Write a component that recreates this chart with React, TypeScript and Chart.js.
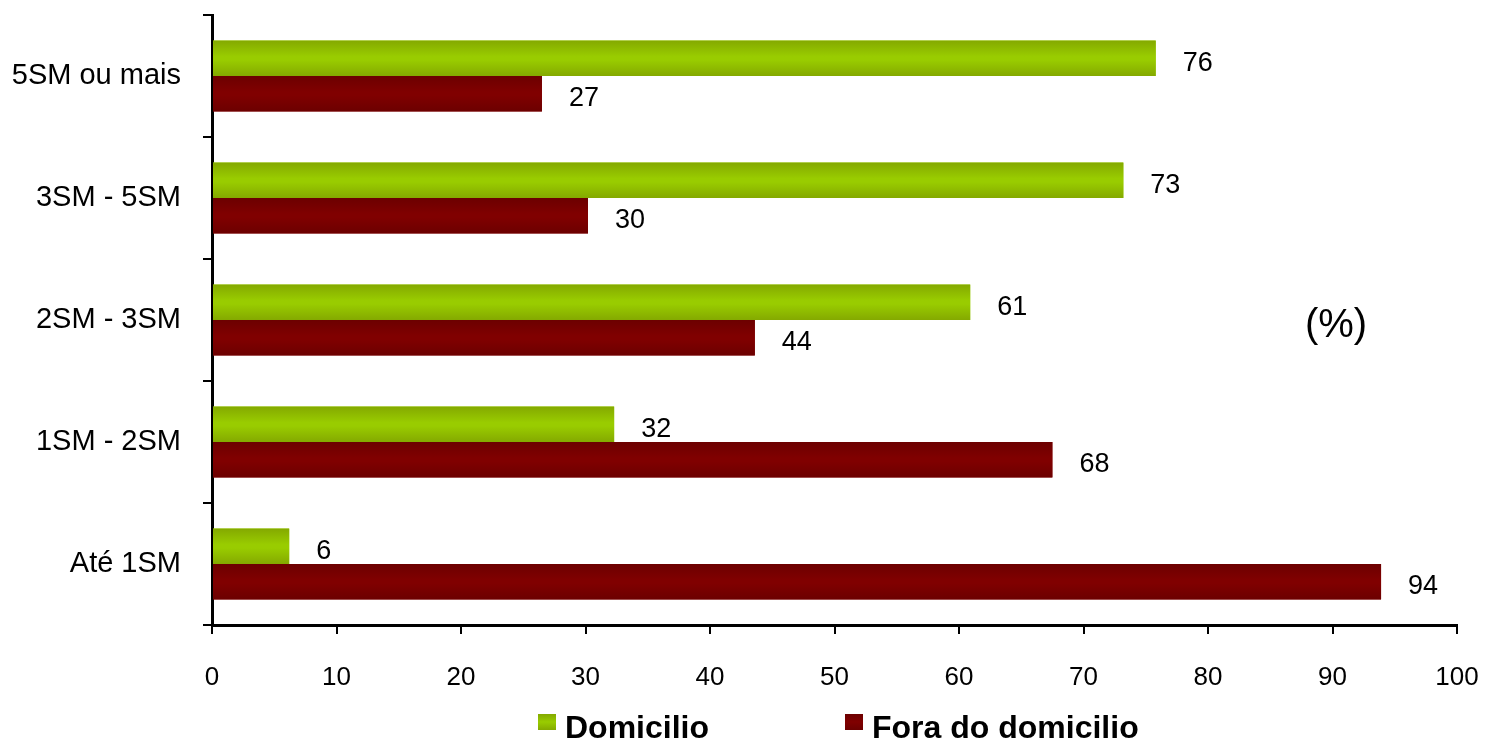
import React, { useEffect, useRef } from "react";
import { Chart, registerables } from "chart.js";

Chart.register(...registerables);

const categories = ["5SM ou mais", "3SM - 5SM", "2SM - 3SM", "1SM - 2SM", "Até 1SM"];
const seriesNames = ["Domicilio", "Fora do domicilio"];
const domicilio = [75.8, 73.2, 60.9, 32.3, 6.2];
const foraDomicilio = [26.5, 30.2, 43.6, 67.5, 93.9];
const valueLabelsDomicilio = ["76", "73", "61", "32", "6"];
const valueLabelsFora = ["27", "30", "44", "68", "94"];
const xTicks = [0, 10, 20, 30, 40, 50, 60, 70, 80, 90, 100];
const unitLabel = "(%)";

const GREEN = "#99CC00";
const GREEN_EDGE = "#84A900";
const RED = "#800000";
const RED_EDGE = "#6C0000";
const FONT = "'Liberation Sans', Arial, sans-serif";

const zeroPad = (scale: any) => {
  scale.paddingTop = 0;
  scale.paddingBottom = 0;
  scale.paddingLeft = 0;
  scale.paddingRight = 0;
};

const barPlugin = {
  id: "barDecor",
  afterDatasetsDraw(chart: any) {
    const ctx = chart.ctx;
    const labelSets = [valueLabelsDomicilio, valueLabelsFora];
    const colorSets = [
      [GREEN_EDGE, GREEN],
      [RED_EDGE, RED],
    ];
    chart.data.datasets.forEach((_ds: any, di: number) => {
      const meta = chart.getDatasetMeta(di);
      meta.data.forEach((bar: any, i: number) => {
        const h = bar.height;
        const top = bar.y - h / 2;
        const left = Math.min(bar.base, bar.x);
        const w = Math.abs(bar.x - bar.base);
        const g = ctx.createLinearGradient(0, top, 0, top + h);
        g.addColorStop(0, colorSets[di][0]);
        g.addColorStop(0.45, colorSets[di][1]);
        g.addColorStop(0.55, colorSets[di][1]);
        g.addColorStop(1, colorSets[di][0]);
        ctx.save();
        ctx.fillStyle = g;
        ctx.fillRect(left, top, w, h);
        ctx.restore();
        ctx.save();
        ctx.fillStyle = "#000";
        ctx.font = `27px ${FONT}`;
        ctx.textAlign = "left";
        ctx.textBaseline = "middle";
        ctx.fillText(labelSets[di][i], bar.x + 27, bar.y + 5);
        ctx.restore();
      });
    });
  },
  afterDraw(chart: any) {
    const ctx = chart.ctx;
    ctx.save();
    ctx.fillStyle = "#000";
    ctx.font = `40px ${FONT}`;
    ctx.textAlign = "center";
    ctx.textBaseline = "middle";
    ctx.fillText(unitLabel, 1336, 326);
    const items = [
      { x: 538, color: GREEN, edge: GREEN_EDGE, text: seriesNames[0] },
      { x: 845, color: RED, edge: RED_EDGE, text: seriesNames[1] },
    ];
    items.forEach((it) => {
      const g = ctx.createLinearGradient(0, 714, 0, 730);
      g.addColorStop(0, it.edge);
      g.addColorStop(0.5, it.color);
      g.addColorStop(1, it.edge);
      ctx.fillStyle = g;
      ctx.fillRect(it.x, 714, 18, 16);
      ctx.fillStyle = "#000";
      ctx.font = `bold 32px ${FONT}`;
      ctx.textAlign = "left";
      ctx.textBaseline = "alphabetic";
      ctx.fillText(it.text, it.x + 27, 738);
    });
    ctx.restore();
  },
};

export default function App() {
  const ref = useRef<HTMLCanvasElement | null>(null);
  useEffect(() => {
    if (!ref.current) return;
    const chart = new Chart(ref.current, {
      type: "bar",
      data: {
        labels: categories,
        datasets: [
          {
            label: seriesNames[0],
            data: domicilio,
            backgroundColor: GREEN,
            categoryPercentage: 0.58,
            barPercentage: 1.0,
          },
          {
            label: seriesNames[1],
            data: foraDomicilio,
            backgroundColor: RED,
            categoryPercentage: 0.58,
            barPercentage: 1.0,
          },
        ],
      },
      options: {
        indexAxis: "y",
        animation: false,
        responsive: false,
        maintainAspectRatio: false,
        layout: { padding: { top: 15, right: 30, left: 0, bottom: 0 } },
        plugins: {
          legend: { display: false },
          tooltip: { enabled: false },
        },
        scales: {
          x: {
            min: 0,
            max: 100,
            afterBuildTicks: (scale: any) => {
              scale.ticks = xTicks.map((v) => ({ value: v }));
            },
            afterFit: (scale: any) => {
              scale.height = 115;
              zeroPad(scale);
            },
            grid: {
              drawOnChartArea: false,
              drawTicks: true,
              tickLength: 9,
              color: "#000",
              lineWidth: 2,
            },
            border: { display: true, color: "#000", width: 3 },
            ticks: {
              color: "#000",
              font: { family: FONT, size: 26 },
              padding: 28,
            },
          },
          y: {
            afterFit: (scale: any) => {
              scale.width = 212;
              zeroPad(scale);
            },
            grid: {
              drawOnChartArea: false,
              drawTicks: true,
              tickLength: 9,
              color: "#000",
              lineWidth: 2,
              offset: true,
            },
            border: { display: true, color: "#000", width: 3 },
            ticks: {
              color: "#000",
              font: { family: FONT, size: 29 },
              padding: 22,
            },
          },
        },
      },
      plugins: [barPlugin],
    });
    return () => chart.destroy();
  }, []);
  return (
    <div style={{ position: "fixed", left: 0, top: 0, width: 1487, height: 740, background: "#fff" }}>
      <canvas ref={ref} width={1487} height={740} style={{ width: 1487, height: 740 }} />
    </div>
  );
}
